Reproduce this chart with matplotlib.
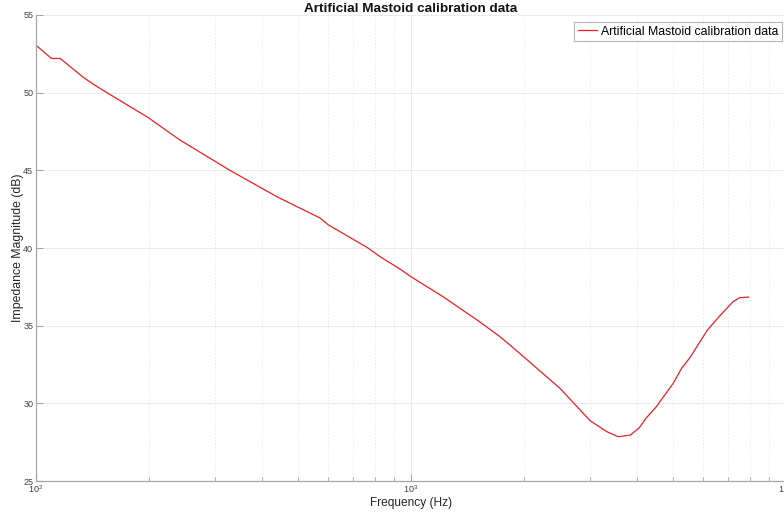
import matplotlib
matplotlib.use("Agg")
import matplotlib.pyplot as plt
from matplotlib.ticker import LogLocator, NullFormatter

plt.rcParams['font.family'] = ['Liberation Sans', 'DejaVu Sans']
plt.rcParams['mathtext.fontset'] = 'custom'
plt.rcParams['mathtext.rm'] = 'Liberation Sans'

freq_hz = [100, 110, 116, 133.5, 141, 154.6, 199, 242, 328.8, 439, 572, 601,
           768, 827, 935, 1000, 1218, 1524, 1729, 1953, 2497, 3004, 3331,
           3571, 3846, 4063, 4230, 4508, 5000, 5267, 5550, 6172, 6686, 7220,
           7520, 7940]
magnitude_db = [53.05, 52.2, 52.2, 51.0, 50.6, 50.0, 48.4, 46.95, 45.0, 43.3,
                41.93, 41.5, 40.0, 39.44, 38.64, 38.15, 36.86, 35.25, 34.28,
                33.2, 30.96, 28.88, 28.17, 27.85, 27.96, 28.43, 29.03, 29.78,
                31.28, 32.25, 32.96, 34.72, 35.68, 36.54, 36.8, 36.84]
series_label = "Artificial Mastoid calibration data"
y_ticks = [25, 30, 35, 40, 45, 50, 55]

W, H = 784, 514
fig = plt.figure(figsize=(W / 100, H / 100), dpi=100)
ax = fig.add_axes([36 / W, (H - 481) / H, 750 / W, 466 / H])

ax.plot(freq_hz, magnitude_db, color='#ec2024', lw=0.9, label=series_label)
ax.set_xscale('log')
ax.set_xlim(100, 10000)
ax.set_ylim(25, 55)
ax.set_yticks(y_ticks)

ax.xaxis.set_major_locator(LogLocator(base=10))
ax.xaxis.set_minor_locator(LogLocator(base=10, subs=range(2, 10)))
ax.xaxis.set_minor_formatter(NullFormatter())

ax.grid(True, which='major', axis='both', color='#ebebeb', lw=0.7, ls='-')
ax.grid(True, which='minor', axis='x', color='#e3e3e3', lw=0.6, ls=(0, (1.5, 2.5)))
ax.set_axisbelow(True)

for s in ['top', 'right']:
    ax.spines[s].set_visible(False)
for s in ['left', 'bottom']:
    ax.spines[s].set_color('#a6a6a6')
    ax.spines[s].set_linewidth(0.9)

ax.tick_params(axis='both', which='both', direction='in', colors='#a6a6a6',
               labelcolor='#404040', labelsize=6.5)
ax.tick_params(axis='both', which='major', length=5, width=0.8, pad=2)
ax.tick_params(axis='x', which='minor', length=3, width=0.6)

ax.set_xlabel('Frequency (Hz)', fontsize=8.6, color='#262626')
ax.set_ylabel('Impedance Magnitude (dB)', fontsize=8.8, color='#262626')
ax.xaxis.set_label_coords(0.5, -16 / 466)
ax.yaxis.set_label_coords(-12 / 750, 0.5)
ax.set_title(series_label, fontsize=9.7, fontweight='bold', color='#111111', pad=2)

leg = ax.legend(loc='upper right', bbox_to_anchor=(746 / 750, 1 - 7 / 466),
                fontsize=8.8, frameon=True, fancybox=False, borderpad=0.3,
                handlelength=1.6, handletextpad=0.3, borderaxespad=0.0)
leg.get_frame().set_edgecolor('#a0a0a0')
leg.get_frame().set_linewidth(0.8)

fig.savefig('out.png', dpi=100)
